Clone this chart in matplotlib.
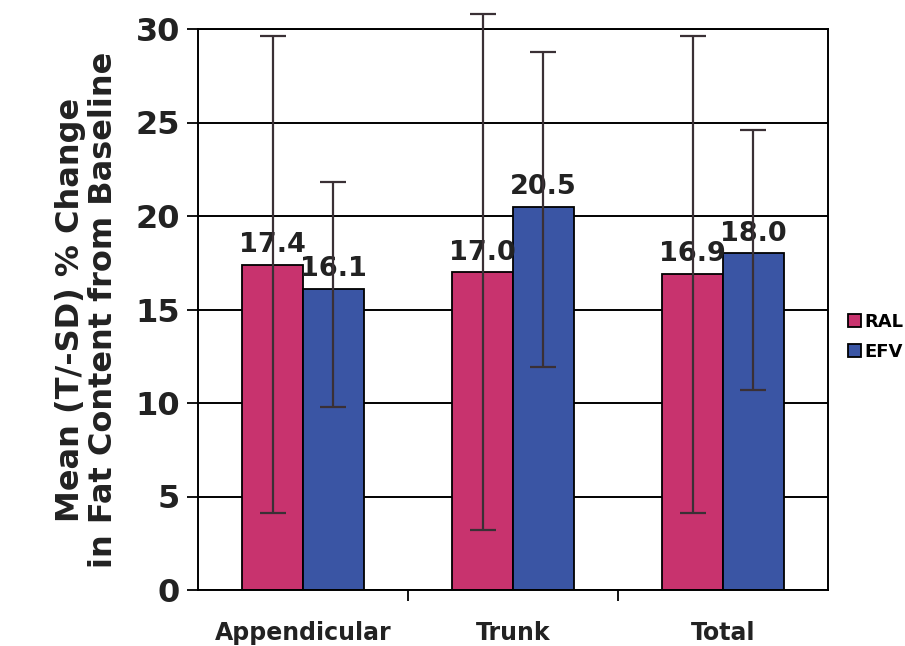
import matplotlib
matplotlib.use("Agg")
import matplotlib.pyplot as plt
import numpy as np

categories = ["Appendicular", "Trunk", "Total"]
series_names = ["RAL", "EFV"]
ral_mean = [17.4, 17.0, 16.9]
efv_mean = [16.1, 20.5, 18.0]
ral_low = [4.1, 3.2, 4.1]
ral_high = [29.6, 30.8, 29.6]
efv_low = [9.8, 11.95, 10.7]
efv_high = [21.8, 28.75, 24.6]
yticks = [0, 5, 10, 15, 20, 25, 30]

colors = ["#C8336E", "#3A55A4"]
err_color = "#3a3035"

plt.rcParams['font.family'] = ['DejaVu Sans']
plt.rcParams['font.weight'] = 'bold'

fig = plt.figure(figsize=(9.05, 6.46), dpi=100)
ax = fig.add_axes([198/905, 1-590/646, 630/905, 561/646])

x = np.arange(len(categories))
w = 0.29
means = [ral_mean, efv_mean]
lows = [ral_low, efv_low]
highs = [ral_high, efv_high]
offs = [-w/2, w/2]
handles = []
for i in range(2):
    m = np.array(means[i])
    lo = m - np.array(lows[i])
    hi = np.array(highs[i]) - m
    b = ax.bar(x + offs[i], m, w, color=colors[i], edgecolor="black",
               linewidth=1.3, zorder=2, label=series_names[i])
    handles.append(b)
    for xi, v in zip(x + offs[i], m):
        ax.text(xi, v + 0.35, f"{v:.1f}", ha="center", va="bottom",
                fontsize=19.5, fontweight="bold", color="#222222", zorder=3)
    eb = ax.errorbar(x + offs[i], m, yerr=[lo, hi], fmt="none", ecolor=err_color,
                     elinewidth=1.6, capsize=9.5, capthick=1.6, zorder=4)
    for art in eb.lines[1] + eb.lines[2]:
        art.set_clip_on(False)
    for art in eb.lines[2]:
        art.set_clip_on(False)

ax.set_xlim(-0.5, 2.5)
ax.set_ylim(0, 30)
ax.set_yticks(yticks)
ax.set_yticklabels([str(t) for t in yticks], fontsize=23, fontweight="bold", color="#222222")
ax.yaxis.grid(True, color="black", linewidth=1.4, zorder=0)
ax.set_axisbelow(True)
ax.set_xticks(x)
ax.set_xticklabels(categories, fontsize=17, fontweight="bold", color="#222222")
ax.set_xticks([0.5, 1.5], minor=True)
ax.tick_params(axis="x", which="major", length=0, pad=22)
ax.tick_params(axis="x", which="minor", length=8, width=1.3, direction="out")
ax.tick_params(axis="y", length=8, width=1.3, direction="out", pad=5)
for s in ax.spines.values():
    s.set_linewidth(1.4)
    s.set_color("black")

ax.set_ylabel("Mean (T/-SD) % Change\nin Fat Content from Baseline",
              fontsize=23, fontweight="bold", color="#222222", labelpad=12,
              linespacing=1.05)

fig.legend(handles=handles, labels=series_names, loc="center left",
           bbox_to_anchor=(848/905, 1-337/646), frameon=False,
           handlelength=0.7, handleheight=0.7, handletextpad=0.2,
           labelspacing=0.65, borderpad=0, borderaxespad=0,
           prop={'weight': 'bold', 'size': 13})

fig.savefig("out.png", dpi=100)
